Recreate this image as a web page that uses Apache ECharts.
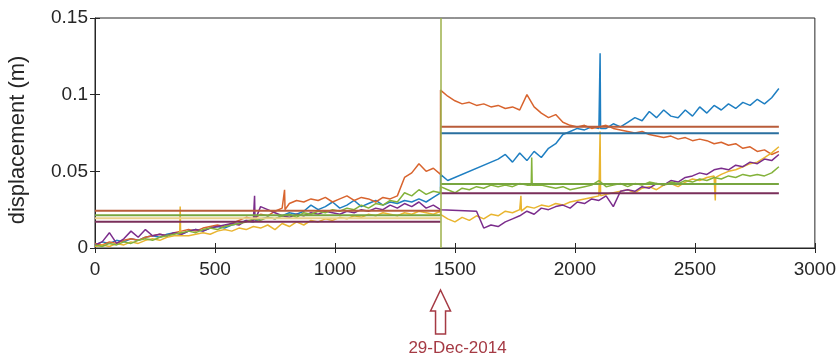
<!DOCTYPE html>
<html>
<head>
<meta charset="utf-8">
<script src="https://cdn.jsdelivr.net/npm/echarts@6.0.0/dist/echarts.min.js"></script>
<style>
  html, body { margin: 0; padding: 0; background: #fff; }
  #chart { width: 839px; height: 362px; }
</style>
</head>
<body>
<div id="chart"></div>
<script>
// sample positions: 0..1440 before the event, 1440..2850 after it (step 30)
var splitX = 1440;
var endX = 2850;
var stepX = 30;

// displacement (m), first 49 values up to 1440, next 48 from 1440 on
var blue = [
  0.002,0.004,0.003,0.005,0.004,0.006,0.005,0.007,0.008,0.007,0.009,0.010,0.009,0.011,0.012,0.011,
  0.013,0.014,0.013,0.015,0.016,0.018,0.017,0.019,0.020,0.019,0.021,0.023,0.022,0.024,0.028,0.025,
  0.027,0.030,0.026,0.028,0.031,0.027,0.029,0.031,0.028,0.030,0.029,0.031,0.030,0.032,0.030,0.033,0.036,
  0.048,0.044,null,null,null,null,null,null,
  0.058,0.061,0.056,0.062,0.057,0.063,0.059,0.065,0.068,0.074,
  0.076,0.078,0.077,0.079,0.078,0.078,0.081,0.079,0.082,
  0.085,0.083,0.089,0.085,0.090,0.086,0.085,0.090,0.086,0.092,0.088,
  0.093,0.090,0.094,0.091,0.095,0.093,0.097,0.094,0.098,0.104
];
var orange = [
  0.003,0.002,0.004,0.003,0.005,0.006,0.005,0.007,0.008,0.009,0.008,0.010,0.011,0.012,0.011,0.013,
  0.014,0.015,0.014,0.016,0.018,0.020,0.019,0.022,0.021,0.024,0.026,0.029,0.031,0.030,0.032,0.031,
  0.033,0.030,0.032,0.034,0.031,0.033,0.032,0.030,0.033,0.032,0.034,0.046,0.049,0.055,0.050,0.052,0.048,
  0.103,0.099,0.096,0.094,0.095,0.093,0.094,0.092,0.093,0.091,0.092,0.090,
  0.100,0.092,0.088,0.085,0.087,0.082,0.080,0.079,0.080,0.078,0.079,0.080,
  0.078,0.077,0.076,0.075,0.076,0.074,0.073,0.072,0.073,0.071,0.072,0.070,
  0.071,0.070,0.068,0.069,0.067,0.068,0.065,0.066,0.063,0.064,0.061,0.063
];
var yellow = [
  0.001,0.002,0.001,0.003,0.002,0.004,0.003,0.005,0.006,0.005,0.007,0.008,0.008,0.008,0.009,0.010,
  0.009,0.011,0.012,0.011,0.013,0.012,0.014,0.013,0.015,0.012,0.016,0.014,0.017,0.015,0.018,0.017,
  0.019,0.018,0.020,0.019,0.021,0.020,0.022,0.021,0.023,0.022,0.021,0.023,0.022,0.024,0.023,0.022,0.024,
  0.022,0.019,0.017,0.020,0.018,0.021,0.019,0.022,0.021,0.024,0.023,0.025,
  0.027,0.026,0.028,0.027,0.029,0.028,0.030,0.031,0.032,0.033,0.034,0.035,
  0.036,0.037,0.038,0.036,0.039,0.040,0.038,0.041,0.042,0.040,0.043,0.045,
  0.044,0.046,0.047,0.048,0.050,0.051,0.053,0.055,0.056,0.059,0.062,0.066
];
var purple = [
  0.002,0.004,0.010,0.003,0.006,0.011,0.007,0.012,0.008,0.009,0.008,0.010,0.009,0.011,0.012,0.011,
  0.013,0.014,0.015,0.016,0.015,0.018,0.018,0.027,0.025,0.023,0.021,0.020,0.022,0.021,0.023,0.022,
  0.024,0.023,0.022,0.024,0.023,0.025,0.024,0.026,0.025,0.028,0.026,0.029,0.027,0.030,0.026,0.028,0.025,
  0.024,null,null,null,null,0.024,
  0.013,0.015,0.014,0.017,0.019,0.021,0.024,0.022,0.026,0.025,
  0.027,0.028,0.026,0.030,0.029,0.032,0.031,0.034,0.027,0.037,
  0.038,0.037,0.040,0.039,0.042,0.041,0.044,0.043,0.046,0.047,
  0.049,0.048,0.051,0.052,0.051,0.054,0.053,0.056,0.055,0.058,0.057,0.061
];
var green = [
  0.002,0.001,0.003,0.002,0.004,0.003,0.005,0.006,0.005,0.007,0.008,0.009,0.010,0.011,0.010,0.012,
  0.013,0.012,0.014,0.015,0.016,0.017,0.019,0.018,0.020,0.019,0.021,0.022,0.020,0.023,0.022,0.024,
  0.023,0.025,0.024,0.026,0.025,0.028,0.026,0.029,0.028,0.031,0.030,0.036,0.034,0.038,0.035,0.037,0.036,
  0.040,0.038,0.036,0.039,0.038,0.040,0.039,0.041,0.040,0.041,0.040,0.042,
  0.041,0.041,0.041,0.040,0.039,0.040,0.038,0.039,0.040,0.041,0.044,0.040,
  0.041,0.042,0.040,0.042,0.041,0.043,0.042,0.041,0.043,0.042,0.044,0.043,
  0.045,0.044,0.046,0.045,0.047,0.046,0.048,0.047,0.048,0.047,0.049,0.053
];

// narrow spikes: [x, level beside, peak]
var blueSpikes = [[2105, 0.078, 0.127]];
var orangeSpikes = [[790, 0.025, 0.038]];
var yellowSpikes = [[355, 0.008, 0.027], [1775, 0.024, 0.034], [2105, 0.034, 0.076], [2585, 0.046, 0.031]];
var purpleSpikes = [[665, 0.018, 0.034]];
var greenSpikes = [[1820, 0.041, 0.059]];

// segment means (blue, orange, yellow, purple, green); null = not drawn
var meanPre  = [null, 0.0243, 0.0194, 0.0172, 0.0213];
var meanPost = [0.0748, 0.0790, null, 0.0357, 0.0417];

var names = ['s1', 's2', 's3', 's4', 's5'];
var colors = ['#1f7fc2', '#d8642e', '#e9b530', '#7b2d8c', '#83b23a'];
var meanColors = ['#2a6f9f', '#b95c3a', '#ead08a', '#7a2f5a', '#78a640'];
var dividerColor = '#9db04a';
var eventLabel = '29-Dec-2014';
var yTitle = 'displacement (m)';

var xs = [];
for (var x = 0; x <= splitX; x += stepX) xs.push(x);
for (var x2 = splitX; x2 <= endX; x2 += stepX) xs.push(x2);

function buildData(vals, spikes) {
  var d = vals.map(function (v, i) { return [xs[i], v]; });
  spikes.forEach(function (s) {
    d.push([s[0] - 2, s[1]], [s[0], s[2]], [s[0] + 2, s[1]]);
  });
  d.sort(function (a, b) { return a[0] - b[0]; });
  return d;
}

var all = [blue, orange, yellow, purple, green];
var allSpikes = [blueSpikes, orangeSpikes, yellowSpikes, purpleSpikes, greenSpikes];
var series = [];
all.forEach(function (vals, k) {
  series.push({
    name: names[k],
    type: 'line',
    data: buildData(vals, allSpikes[k]),
    connectNulls: true,
    showSymbol: false,
    symbol: 'none',
    lineStyle: { color: colors[k], width: 1.5 },
    z: 2
  });
});
all.forEach(function (vals, k) {
  if (meanPre[k] !== null) {
    series.push({
      type: 'line', symbol: 'none', silent: true, z: 3,
      data: [[0, meanPre[k]], [splitX, meanPre[k]]],
      lineStyle: { color: meanColors[k], width: 2 }
    });
  }
  if (meanPost[k] !== null) {
    series.push({
      type: 'line', symbol: 'none', silent: true, z: 3,
      data: [[splitX, meanPost[k]], [endX, meanPost[k]]],
      lineStyle: { color: meanColors[k], width: 2 }
    });
  }
});
// event divider
series[0].markLine = {
  silent: true,
  symbol: 'none',
  label: { show: false },
  lineStyle: { color: dividerColor, width: 1.5, type: 'solid' },
  data: [{ xAxis: splitX }]
};

var tickFont = { fontFamily: 'Liberation Sans', fontSize: 19, color: '#262626' };

var chartDiv = document.getElementById('chart');
var chart = echarts.init(chartDiv, null, { renderer: 'canvas' });
var option = {
  animation: false,
  backgroundColor: '#fff',
  grid: {
    left: 95, right: 23, top: 18, bottom: 114,
    show: true, borderColor: '#262626', borderWidth: 1
  },
  xAxis: [{
    type: 'value', min: 0, max: 3000, interval: 500,
    axisLine: { lineStyle: { color: '#262626' } },
    axisTick: { inside: true, length: 5, lineStyle: { color: '#262626' } },
    splitLine: { show: false },
    axisLabel: Object.assign({ margin: 12, formatter: function (v) { return String(v); } }, tickFont)
  }, {
    type: 'value', min: 0, max: 3000, interval: 500, position: 'top',
    axisLine: { show: false },
    axisTick: { inside: true, length: 5, lineStyle: { color: '#262626' } },
    splitLine: { show: false },
    axisLabel: { show: false }
  }],
  yAxis: [{
    type: 'value', min: 0, max: 0.15, interval: 0.05,
    axisLine: { show: true, lineStyle: { color: '#262626' } },
    axisTick: { show: true, inside: true, length: 5, lineStyle: { color: '#262626' } },
    splitLine: { show: false },
    axisLabel: Object.assign({ margin: 7 }, tickFont)
  }, {
    type: 'value', min: 0, max: 0.15, interval: 0.05, position: 'right',
    axisLine: { show: false },
    axisTick: { show: true, inside: true, length: 5, lineStyle: { color: '#262626' } },
    splitLine: { show: false },
    axisLabel: { show: false }
  }],
  series: series
};
chart.setOption(option);

// y title, arrow + date under the event position
var ax = chart.convertToPixel({ xAxisIndex: 0 }, splitX);
var red = '#a53a44';
chart.setOption({
  graphic: [{
    type: 'text',
    x: 18, y: 140, rotation: Math.PI / 2,
    style: {
      text: yTitle, fill: '#262626', font: '22px "Liberation Sans"',
      textAlign: 'center', textVerticalAlign: 'middle'
    }
  }, {
    type: 'polygon',
    shape: {
      points: [
        [ax, 290], [ax + 10, 311], [ax + 5, 311], [ax + 5, 334],
        [ax - 5, 334], [ax - 5, 311], [ax - 10, 311]
      ]
    },
    style: { fill: '#fff', stroke: red, lineWidth: 1.5 }
  }, {
    type: 'text',
    x: ax + 17, y: 348,
    style: {
      text: eventLabel, fill: red, font: '17px "Liberation Sans"',
      textAlign: 'center', textVerticalAlign: 'middle'
    }
  }]
});

window.addEventListener('resize', function () {
  setTimeout(function () { chart.resize(); }, 200);
});
</script>
</body>
</html>
